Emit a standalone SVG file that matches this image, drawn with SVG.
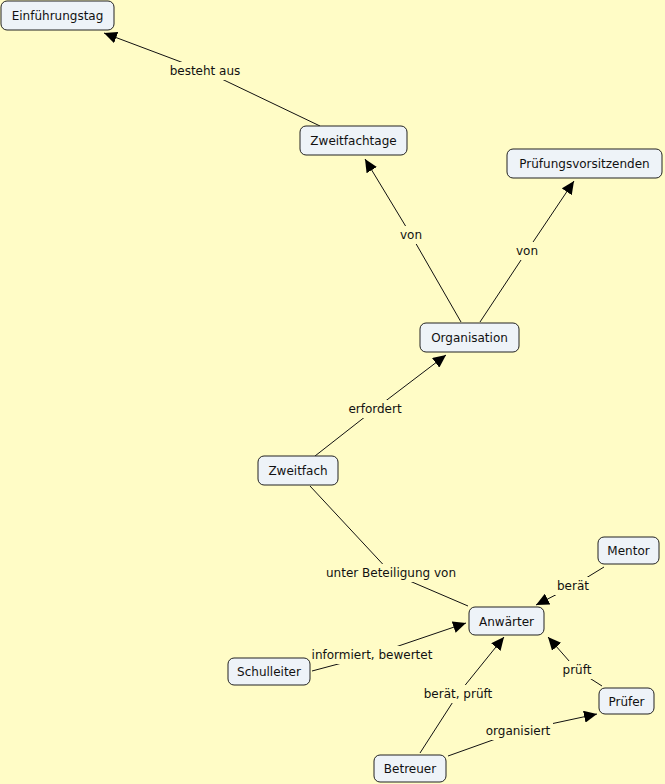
<svg xmlns="http://www.w3.org/2000/svg" width="665" height="784" viewBox="0 0 665 784">
<style>
.node rect{fill:#eef3f8;stroke:#222;stroke-width:1}
.node text,.lbl text{font-family:"DejaVu Sans",Verdana,sans-serif;font-size:12px;fill:#111;text-anchor:middle}
.conn polyline{stroke:#111;stroke-width:1;fill:none}
.lbl rect{fill:#fffcc6}
</style>
<defs>
<marker id="ah" markerUnits="userSpaceOnUse" markerWidth="14" markerHeight="12" refX="13" refY="6" orient="auto">
<path d="M0,0 L13,6 L0,12 Z" fill="#000"/>
</marker>
</defs>
<rect width="665" height="784" fill="#fffcc6"/>
<g id="connectors" class="conn">
<polyline points="320,126 205,71 104,33" marker-end="url(#ah)"/>
<polyline points="461,322 411,235 365,159" marker-end="url(#ah)"/>
<polyline points="480,322 527,251 574,181" marker-end="url(#ah)"/>
<polyline points="315,456 375,409 446,355" marker-end="url(#ah)"/>
<polyline points="310,486 391,573 468,606"/>
<polyline points="604,567 573,586 536,605" marker-end="url(#ah)"/>
<polyline points="312,671 372,655 466,623" marker-end="url(#ah)"/>
<polyline points="420,753 458,694 504,637" marker-end="url(#ah)"/>
<polyline points="602,686 577,670 548,637" marker-end="url(#ah)"/>
<polyline points="448,756 518,731 597,714" marker-end="url(#ah)"/>
</g>
<g id="labels" class="lbl">
<rect x="165" y="62" width="80" height="18"/><text x="205" y="75">besteht aus</text>
<rect x="398" y="226" width="26" height="18"/><text x="411" y="239">von</text>
<rect x="514" y="242" width="26" height="18"/><text x="527" y="255">von</text>
<rect x="345" y="400" width="60" height="18"/><text x="375" y="413">erfordert</text>
<rect x="322" y="564" width="138" height="18"/><text x="391" y="577">unter Beteiligung von</text>
<rect x="555" y="577" width="36" height="18"/><text x="573" y="590">berät</text>
<rect x="308" y="646" width="128" height="18"/><text x="372" y="659">informiert, bewertet</text>
<rect x="419" y="685" width="78" height="18"/><text x="458" y="698">berät, prüft</text>
<rect x="560" y="661" width="34" height="18"/><text x="577" y="674">prüft</text>
<rect x="483" y="722" width="70" height="18"/><text x="518" y="735">organisiert</text>
</g>
<g id="n-einfuehrungstag" class="node"><rect x="1" y="1" width="113" height="29" rx="6"/><text x="57.5" y="20">Einführungstag</text></g>
<g id="n-zweitfachtage" class="node"><rect x="300" y="126" width="107" height="29" rx="6"/><text x="353.5" y="145">Zweitfachtage</text></g>
<g id="n-pruefungsvorsitzenden" class="node"><rect x="507" y="149" width="155" height="29" rx="6"/><text x="584.5" y="168">Prüfungsvorsitzenden</text></g>
<g id="n-organisation" class="node"><rect x="420" y="323" width="99" height="29" rx="6"/><text x="469.5" y="342">Organisation</text></g>
<g id="n-zweitfach" class="node"><rect x="258" y="456" width="80" height="29" rx="6"/><text x="298" y="475">Zweitfach</text></g>
<g id="n-anwaerter" class="node"><rect x="469" y="607" width="75" height="28" rx="6"/><text x="506.5" y="626">Anwärter</text></g>
<g id="n-mentor" class="node"><rect x="598" y="537" width="61" height="27" rx="6"/><text x="628.5" y="555">Mentor</text></g>
<g id="n-schulleiter" class="node"><rect x="228" y="658" width="82" height="27" rx="6"/><text x="269" y="676">Schulleiter</text></g>
<g id="n-pruefer" class="node"><rect x="599" y="688" width="55" height="26" rx="6"/><text x="626.5" y="706">Prüfer</text></g>
<g id="n-betreuer" class="node"><rect x="374" y="755" width="72" height="27" rx="6"/><text x="410" y="773">Betreuer</text></g>
</svg>
